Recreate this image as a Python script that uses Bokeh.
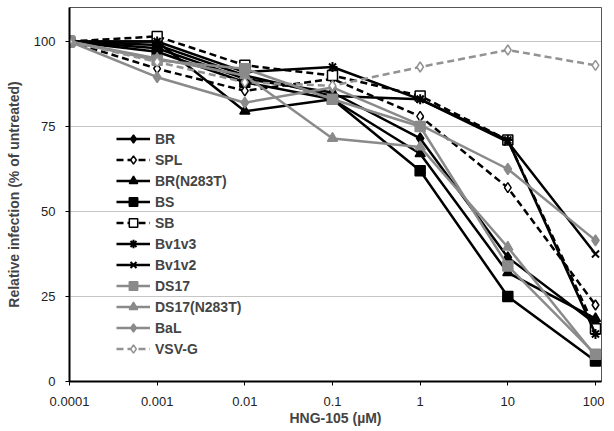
from bokeh.plotting import figure
from bokeh.models import FixedTicker, Legend, LegendItem, Range1d
from bokeh.embed import file_html
from bokeh.resources import INLINE

# ---- data ----
conc = [0.0001, 0.001, 0.01, 0.1, 1, 10, 100]
tick_labels = ["0.0001", "0.001", "0.01", "0.1", "1", "10", "100"]
y_ticks = [0, 25, 50, 75, 100]

BR = [100, 98, 89, 85, 71.5, 36.5, 17]
SPL = [100, 92, 85.5, 89, 78, 57, 22.5]
BR_N283T = [100, 100, 79.5, 83, 67, 32, 18.5]
BS = [100, 97, 88, 83, 62, 25, 6]
SB = [100, 101.5, 93, 90, 84, 71, 15.5]
Bv1v3 = [100, 100, 91, 92.5, 83, 71, 14]
Bv1v2 = [100, 99, 90, 84, 83, 70.5, 37.5]
DS17 = [100, 94.5, 92, 83, 75, 34, 8]
DS17_N283T = [100, 95, 90, 71.5, 69, 39.5, 7.5]
BaL = [100, 89.5, 82, 86.5, 75.5, 62.5, 41.5]
VSV_G = [100, 94, 88, 87, 92.5, 97.5, 93]

BLACK = "#000000"
GRAY = "#8a8a8a"
LGRAY = "#929292"

series = [
    ("BR", BR, BLACK, "solid", "diamond", BLACK, 11),
    ("SPL", SPL, BLACK, "7 4", "diamond", "white", 10),
    ("BR(N283T)", BR_N283T, BLACK, "solid", "triangle", BLACK, 10),
    ("BS", BS, BLACK, "solid", "square", BLACK, 10),
    ("SB", SB, BLACK, "7 4", "square", "white", 10),
    ("Bv1v3", Bv1v3, BLACK, "solid", "asterisk", None, 10),
    ("Bv1v2", Bv1v2, BLACK, "solid", "x", None, 10),
    ("DS17", DS17, GRAY, "solid", "square", GRAY, 10),
    ("DS17(N283T)", DS17_N283T, GRAY, "solid", "triangle", GRAY, 10),
    ("BaL", BaL, GRAY, "solid", "diamond", GRAY, 11),
    ("VSV-G", VSV_G, LGRAY, "7 4", "diamond", "white", 10),
]

FONT = "Liberation Sans"

p = figure(width=604, height=428, output_backend="svg", toolbar_location=None,
           x_axis_type="log",
           x_range=Range1d(0.0001, 117.1), y_range=Range1d(0, 110),
           min_border_left=69, min_border_right=3, min_border_top=7,
           min_border_bottom=47)

p.background_fill_color = "white"
p.border_fill_color = "white"
p.outline_line_color = "#555555"
p.outline_line_width = 1

# grid
p.xgrid.visible = False
p.ygrid.ticker = FixedTicker(ticks=[25, 50, 75, 100])
p.ygrid.grid_line_color = "#8c8c8c"
p.ygrid.grid_line_dash = "1 1"
p.ygrid.grid_line_width = 1

# x axis
xa = p.xaxis[0]
xa.ticker = FixedTicker(ticks=conc)
xa.major_label_overrides = {c: t for c, t in zip(conc, tick_labels)}
xa.axis_line_width = 2
xa.axis_line_color = BLACK
xa.major_tick_out = 4
xa.major_tick_in = 0
xa.minor_tick_out = 0
xa.minor_tick_in = 0
xa.major_tick_line_color = BLACK
xa.major_label_text_font = FONT
xa.major_label_text_font_size = "13px"
xa.major_label_text_color = "#222222"
xa.major_label_standoff = 11
xa.axis_label = "HNG-105 (µM)"
xa.axis_label_text_font = FONT
xa.axis_label_text_font_size = "14px"
xa.axis_label_text_font_style = "bold"
xa.axis_label_standoff = 1

# y axis
ya = p.yaxis[0]
ya.ticker = FixedTicker(ticks=y_ticks)
ya.axis_line_width = 2
ya.axis_line_color = BLACK
ya.major_tick_out = 4
ya.major_tick_in = 0
ya.minor_tick_out = 0
ya.minor_tick_in = 0
ya.major_label_text_font = FONT
ya.major_label_text_font_size = "13px"
ya.major_label_text_color = "#222222"
ya.major_label_standoff = 10
ya.axis_label = "Relative infection (% of untreated)"
ya.axis_label_text_font = FONT
ya.axis_label_text_font_size = "14px"
ya.axis_label_text_font_style = "bold"
ya.axis_label_standoff = 9

items = []
for name, vals, col, dash, marker, fill, size in series:
    r1 = p.line(conc, vals, line_color=col, line_width=2.5, line_dash=dash)
    if fill is None:
        r2 = p.scatter(conc, vals, marker=marker, size=size, line_color=col,
                       line_width=2)
    else:
        r2 = p.scatter(conc, vals, marker=marker, size=size, line_color=col,
                       fill_color=fill, line_width=1.5)
    items.append(LegendItem(label=name, renderers=[r1, r2]))

legend = Legend(items=items, location=(47, 22))
legend.padding = 0
legend.margin = 0
legend.spacing = 0
legend.glyph_width = 34
legend.glyph_height = 21
legend.label_height = 21
legend.label_standoff = 5
legend.label_text_font = FONT
legend.label_text_font_size = "14px"
legend.label_text_font_style = "bold"
legend.border_line_alpha = 0
legend.background_fill_alpha = 0
p.add_layout(legend, "center")

open("out.html", "w").write(file_html(p, INLINE))
